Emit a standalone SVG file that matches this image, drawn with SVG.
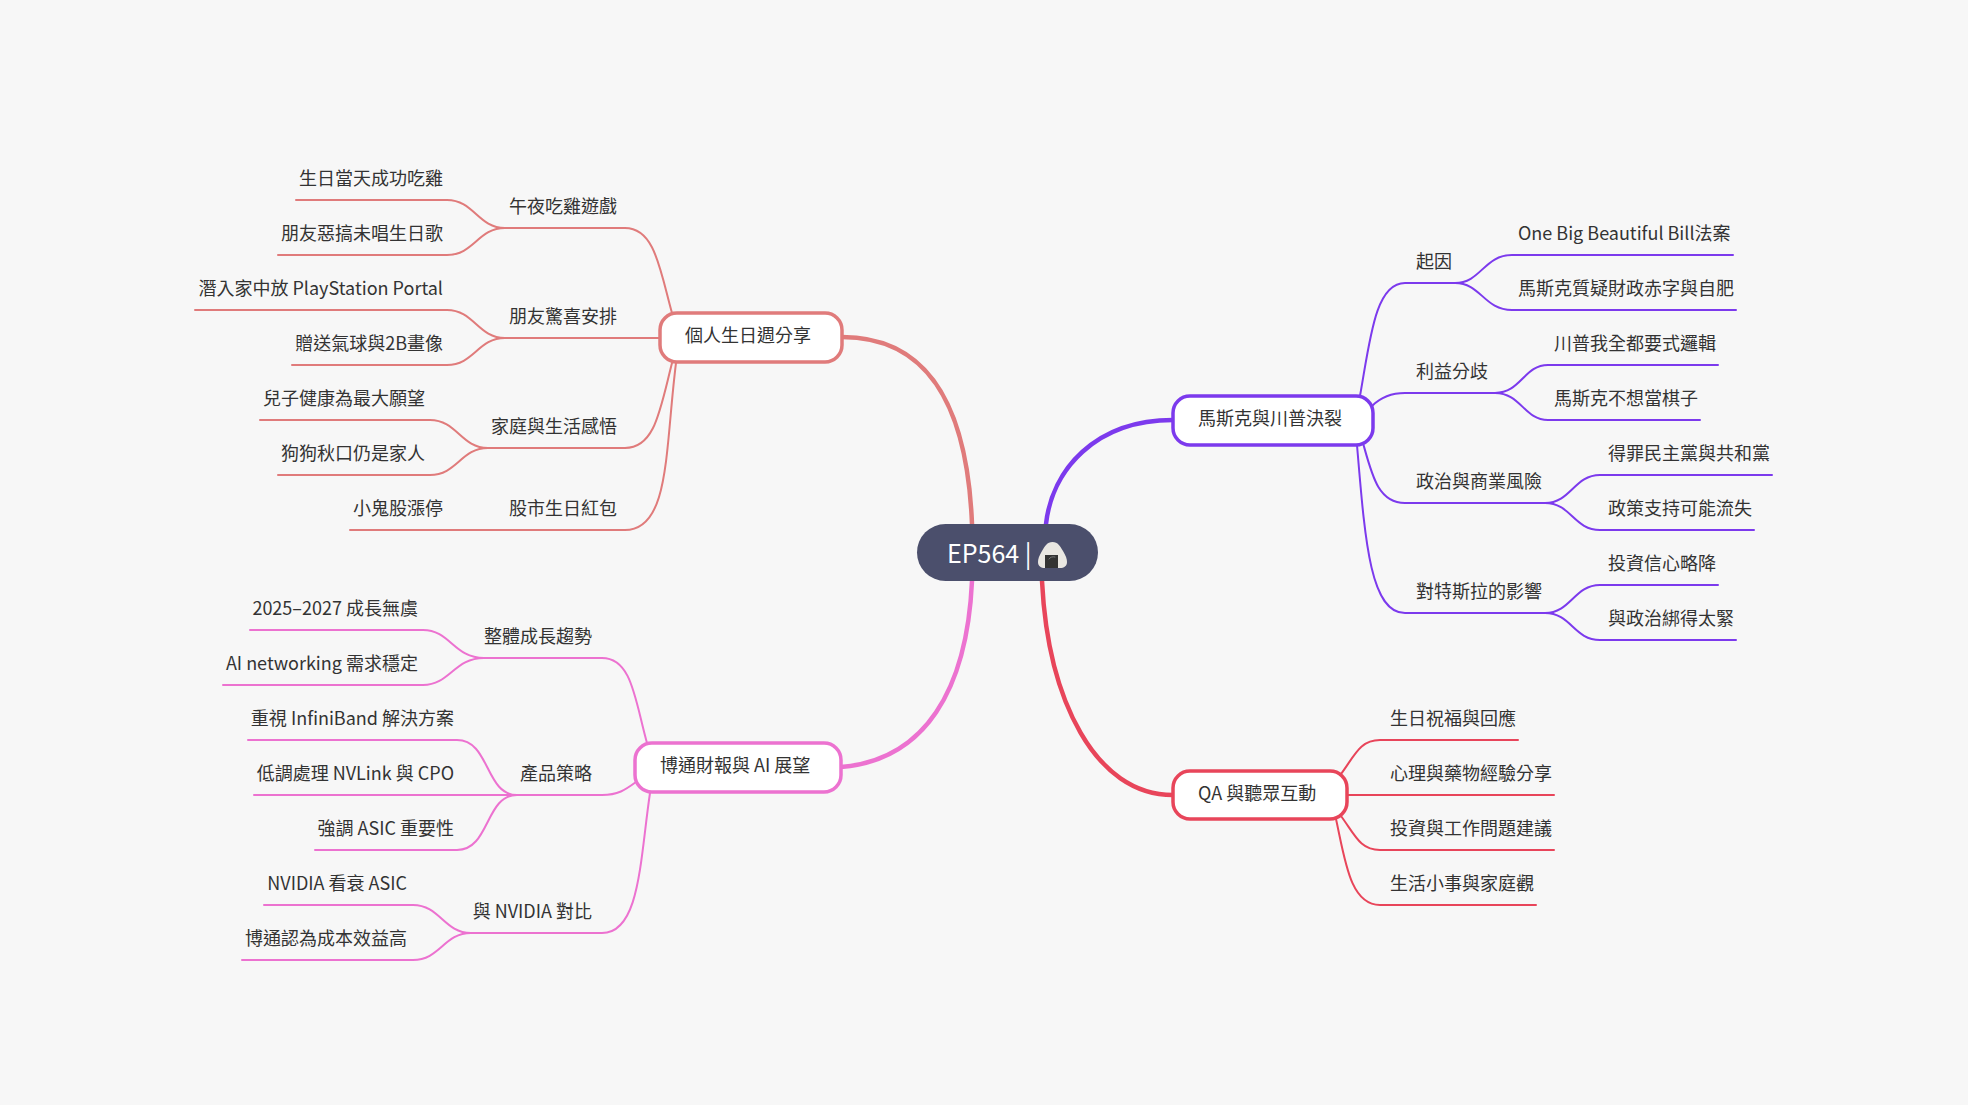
<svg xmlns="http://www.w3.org/2000/svg" width="1968" height="1105" viewBox="0 0 1968 1105">
<style>
text{font-family:"Noto Sans CJK TC","Noto Sans",sans-serif;font-size:18px;fill:#333}
.r{text-anchor:end}
.n{fill:#fff;stroke-width:3.5}
path{fill:none;stroke-width:2;stroke-linecap:round}
.m{stroke-width:4.5}
.a{stroke:#e07b7b}.b{stroke:#7c3aed}.c{stroke:#ec72d0}.d{stroke:#e8455a}
rect.a,rect.b,rect.c,rect.d{fill:#fff}
</style>
<rect width="1968" height="1105" fill="#f7f7f7"/>
<g id="connectors">
<path class="m a" d="M842 337C925 337 967 400 972 524"/>
<path class="m c" d="M841 767C925 760 967 690 972 581"/>
<path class="m b" d="M1173 420C1095 420 1052 470 1046 524"/>
<path class="m d" d="M1042 581C1048 700 1095 795 1173 795"/>
<g class="a">
<path class="a" d="M672 313C660 270 655 228 625 228H497"/>
<path class="a" d="M296 200H447C474 200 478 228 505 228"/>
<path class="a" d="M278 255H447C474 255 478 228 505 228"/>
<path class="a" d="M660 338H497"/>
<path class="a" d="M195 310H447C474 310 478 338 505 338"/>
<path class="a" d="M292 365H447C474 365 478 338 505 338"/>
<path class="a" d="M672 363C660 410 655 448 625 448H480"/>
<path class="a" d="M260 420H430C457 420 461 448 488 448"/>
<path class="a" d="M278 475H430C457 475 461 448 488 448"/>
<path class="a" d="M676 363C665 450 670 530 625 530H350"/>
</g>
<g class="c">
<path class="c" d="M647 743C635 700 632 658 602 658H477"/>
<path class="c" d="M250 630H423C450 630 454 658 484 658"/>
<path class="c" d="M223 685H423C450 685 454 658 484 658"/>
<path class="c" d="M636 782C625 790 618 795 602 795H510"/>
<path class="c" d="M248 740H457C490 740 485 795 517 795"/>
<path class="c" d="M254 795H517"/>
<path class="c" d="M315 850H457C490 850 485 795 517 795"/>
<path class="c" d="M650 793C640 860 640 933 602 933H463"/>
<path class="c" d="M264 905H413C440 905 444 933 471 933"/>
<path class="c" d="M242 960H413C440 960 444 933 471 933"/>
</g>
<g class="b">
<path class="b" d="M1360 396C1370 340 1375 283 1405 283H1458"/>
<path class="b" d="M1455 283C1481 283 1484 255 1512 255H1733"/>
<path class="b" d="M1455 283C1481 283 1484 310 1512 310H1736"/>
<path class="b" d="M1372 406C1380 398 1390 393 1405 393H1498"/>
<path class="b" d="M1495 393C1521 393 1524 365 1548 365H1718"/>
<path class="b" d="M1495 393C1521 393 1524 420 1548 420H1700"/>
<path class="b" d="M1363 443C1372 475 1378 503 1405 503H1548"/>
<path class="b" d="M1545 503C1571 503 1574 475 1600 475H1772"/>
<path class="b" d="M1545 503C1571 503 1574 530 1600 530H1754"/>
<path class="b" d="M1357 445C1365 540 1370 613 1405 613H1548"/>
<path class="b" d="M1545 613C1571 613 1574 585 1600 585H1718"/>
<path class="b" d="M1545 613C1571 613 1574 640 1600 640H1736"/>
</g>
<g class="d">
<path class="d" d="M1341 774C1355 755 1360 740 1380 740H1518"/>
<path class="d" d="M1347 795H1554"/>
<path class="d" d="M1341 816C1355 835 1360 850 1380 850H1554"/>
<path class="d" d="M1336 819C1345 860 1350 905 1380 905H1536"/>
</g>
</g>
<g id="root">
<rect x="917" y="524" width="181" height="57" rx="28.5" fill="#4b4f6c"/>
<text x="947" y="563" style="font-size:25px;fill:#fff">EP564 |</text>
<path d="M1052.5 542C1047 542 1045 546 1042 551C1039 556 1038 559 1038 562C1038 566 1041 568 1045 568H1060C1064 568 1067 566 1067 562C1067 559 1066 556 1063 551C1060 546 1058 542 1052.5 542Z" style="fill:#e9e7e2;stroke:none"/>
<rect x="1045" y="555" width="13" height="13" fill="#333"/>
<path d="M1049 559Q1051 556 1055 557" style="stroke:#777;stroke-width:1"/>
</g>
<g id="node-birthday"><rect class="n a" x="660" y="313" width="182" height="49" rx="17"/><text x="685" y="342">個人生日週分享</text></g>
<g id="node-musk"><rect class="n b" x="1173" y="396" width="200" height="49" rx="17"/><text x="1198" y="425">馬斯克與川普決裂</text></g>
<g id="node-broadcom"><rect class="n c" x="635" y="743" width="206" height="49" rx="17"/><text x="660" y="772">博通財報與 AI 展望</text></g>
<g id="node-qa"><rect class="n d" x="1173" y="771" width="174" height="48" rx="17"/><text x="1198" y="800">QA 與聽眾互動</text></g>
<g id="labels-birthday">
<text class="r" x="617" y="213">午夜吃雞遊戲</text>
<text class="r" x="443" y="185">生日當天成功吃雞</text>
<text class="r" x="443" y="240">朋友惡搞未唱生日歌</text>
<text class="r" x="617" y="323">朋友驚喜安排</text>
<text class="r" x="443" y="295">潛入家中放 PlayStation Portal</text>
<text class="r" x="443" y="350">贈送氣球與2B畫像</text>
<text class="r" x="617" y="433">家庭與生活感悟</text>
<text class="r" x="425" y="405">兒子健康為最大願望</text>
<text class="r" x="425" y="460">狗狗秋口仍是家人</text>
<text class="r" x="617" y="515">股市生日紅包</text>
<text class="r" x="443" y="515">小鬼股漲停</text>
</g>
<g id="labels-broadcom">
<text class="r" x="592" y="643">整體成長趨勢</text>
<text class="r" x="418" y="615">2025–2027 成長無虞</text>
<text class="r" x="418" y="670">AI networking 需求穩定</text>
<text class="r" x="592" y="780">產品策略</text>
<text class="r" x="454" y="725">重視 InfiniBand 解決方案</text>
<text class="r" x="454" y="780">低調處理 NVLink 與 CPO</text>
<text class="r" x="454" y="835">強調 ASIC 重要性</text>
<text class="r" x="592" y="918">與 NVIDIA 對比</text>
<text class="r" x="407" y="890">NVIDIA 看衰 ASIC</text>
<text class="r" x="407" y="945">博通認為成本效益高</text>
</g>
<g id="labels-musk">
<text x="1416" y="268">起因</text>
<text x="1518" y="240">One Big Beautiful Bill法案</text>
<text x="1518" y="295">馬斯克質疑財政赤字與自肥</text>
<text x="1416" y="378">利益分歧</text>
<text x="1554" y="350">川普我全都要式邏輯</text>
<text x="1554" y="405">馬斯克不想當棋子</text>
<text x="1416" y="488">政治與商業風險</text>
<text x="1608" y="460">得罪民主黨與共和黨</text>
<text x="1608" y="515">政策支持可能流失</text>
<text x="1416" y="598">對特斯拉的影響</text>
<text x="1608" y="570">投資信心略降</text>
<text x="1608" y="625">與政治綁得太緊</text>
</g>
<g id="labels-qa">
<text x="1390" y="725">生日祝福與回應</text>
<text x="1390" y="780">心理與藥物經驗分享</text>
<text x="1390" y="835">投資與工作問題建議</text>
<text x="1390" y="890">生活小事與家庭觀</text>
</g>
</svg>
